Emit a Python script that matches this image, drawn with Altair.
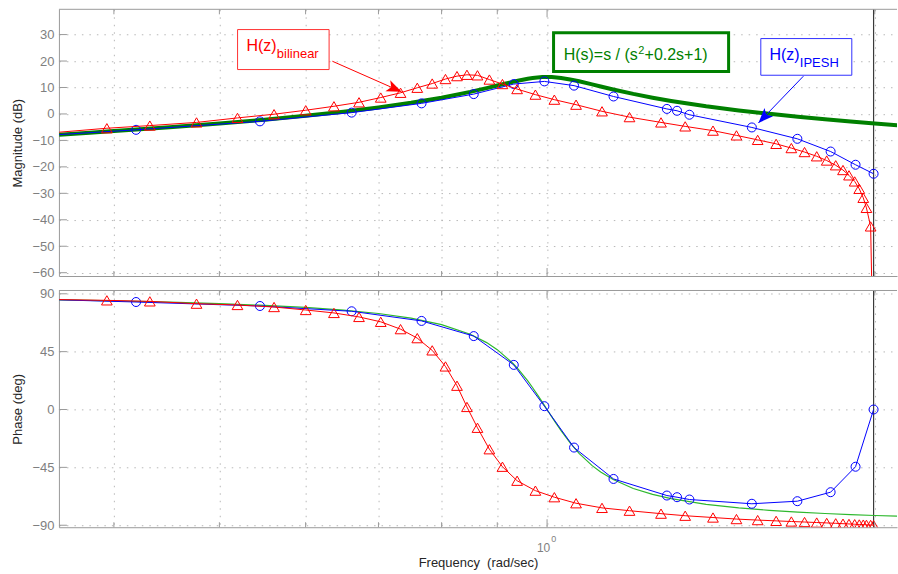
import altair as alt
import pandas as pd

# ---------------- data ----------------
# continuous-time H(s) = s/(s^2+0.2s+1)  (green)
green_w = [0.3563, 0.38, 0.40, 0.45, 0.50, 0.55, 0.60, 0.65, 0.70, 0.75,
           0.80, 0.85, 0.88, 0.90, 0.93, 0.94, 0.96, 0.97, 0.98, 0.99,
           1.00, 1.01, 1.02, 1.03, 1.05, 1.07, 1.10, 1.12, 1.15, 1.20,
           1.25, 1.30, 1.40, 1.50, 1.60, 1.70, 1.80, 1.90, 2.00, 2.10]
green_mag = [-7.82, -7.08, -6.48, -5.03, -3.60, -2.17, -0.71, 0.81, 2.44, 4.20,
             6.15, 8.34, 9.76, 10.73, 12.14, 12.57, 13.31, 13.59, 13.80, 13.94,
             13.98, 13.94, 13.81, 13.62, 13.05, 12.34, 11.17, 10.38, 9.26, 7.58,
             6.15, 4.93, 2.92, 1.34, 0.04, -1.06, -2.01, -2.85, -3.60, -4.28]
green_ph = [85.34, 84.92, 84.56, 83.56, 82.41, 81.04, 79.38, 77.31, 74.65, 71.07,
            66.04, 58.51, 52.04, 46.55, 36.00, 31.76, 22.20, 16.94, 11.40, 5.74,
            0.00, -5.68, -11.20, -16.47, -26.00, -34.10, -43.67, -48.64, -54.50, -61.40,
            -66.04, -69.35, -73.74, -76.50, -78.41, -79.80, -80.87, -81.72, -82.41, -82.98]

# H(z) bilinear (red triangles)
bil_w = [0.3941, 0.4316, 0.4764, 0.5195, 0.5613, 0.6002, 0.6371, 0.6718, 0.7034, 0.7335,
         0.7599, 0.7843, 0.8066, 0.8265, 0.8441, 0.8631, 0.8851, 0.9099, 0.9386, 0.9756,
         1.0155, 1.0632, 1.1232, 1.1905, 1.2725, 1.3393, 1.4204, 1.4927, 1.5612, 1.6234,
         1.6765, 1.7239, 1.7689, 1.8067, 1.8414, 1.8700, 1.8938, 1.9168, 1.9355, 1.9519,
         1.9651, 1.9826, 1.9950]
bil_mag = [-5.4, -4.4, -3.2, -1.5, -0.1, 1.4, 2.9, 4.4, 6.2, 8.0,
           9.9, 11.5, 13.2, 14.3, 14.8, 14.6, 13.0, 11.3, 9.4, 7.3,
           5.4, 3.5, 1.0, -1.2, -3.2, -4.7, -6.3, -8.1, -9.8, -11.3,
           -12.9, -14.4, -16.0, -17.6, -19.4, -21.2, -23.2, -25.5, -28.3, -31.7,
           -35.5, -42.5, -100.0]
bil_ph = [84.9, 84.1, 82.3, 81.3, 79.7, 77.4, 75.1, 72.0, 68.2, 62.5,
          55.5, 46.0, 33.5, 18.5, 2.0, -14.2, -30.9, -44.5, -55.4, -63.1,
          -68.2, -72.9, -76.5, -78.7, -81.0, -82.6, -84.0, -85.2, -86.0, -86.6,
          -87.1, -87.5, -87.9, -88.2, -88.5, -88.8, -89.0, -89.2, -89.4, -89.5,
          -89.7, -89.8, -90.0]
bil_start = [0.3563, -6.9, 85.5]

# H(z) IPESH (blue circles)
ipesh_w = [0.4192, 0.5448, 0.6614, 0.7668, 0.8563, 0.9320, 0.9943, 1.0587, 1.1509,
           1.2884, 1.3164, 1.3513, 1.5421, 1.6979, 1.8217, 1.9203, 1.9950]
ipesh_mag = [-6.0, -2.8, 0.5, 4.0, 7.5, 11.3, 12.3, 10.7, 6.6,
             1.9, 1.2, -0.3, -5.1, -9.4, -14.2, -19.2, -22.6]
ipesh_ph = [83.6, 80.5, 76.4, 68.9, 57.1, 34.7, 2.6, -29.6, -54.0,
            -66.9, -68.2, -70.0, -73.3, -71.3, -64.3, -44.5, 0.0]
ipesh_start = [0.3563, -7.8, 85.3]

nyquist_w = [1.995]

mag_ticks = [-60, -50, -40, -30, -20, -10, 0, 10, 20, 30]
ph_ticks = [-90, -45, 0, 45, 90]
x_grid = [0.4, 0.5, 0.6, 0.7, 0.8, 0.9, 1.0, 2.0]
x_minor = [0.4, 0.5, 0.6, 0.7, 0.8, 0.9, 2.0]
x_major = [1.0]
x_label_w = [1.0]

# annotations (frequency, dB)
red_box = {"x1": [0.5196], "x2": [0.6306], "y1": [31.89], "y2": [16.78]}
green_box = {"x1": [1.0138], "x2": [1.4681], "y1": [30.68], "y2": [16.07]}
blue_box = {"x1": [1.5716], "x2": [1.9052], "y1": [28.49], "y2": [14.63]}
red_txt = {"x": [0.5294], "y": [23.96]}
green_txt = {"x": [1.0357], "y": [20.30]}
blue_txt = {"x": [1.6004], "y": [20.56]}
red_arrow = {"x1": [0.6350], "y1": [19.92], "x2": [0.7350], "y2": [8.40]}
blue_arrow = {"x1": [1.7196], "y1": [14.26], "x2": [1.5637], "y2": [-3.38]}

# ---------------- style ----------------
W, H1, H2 = 839, 267, 237
FRAME = "#9a9a9a"
GRAYTXT = "#7f7f7f"
GRID = "#b8b8b8"
RED = "#ff0000"
BLUE = "#0000ff"
GREEN = "#008000"
GREEN_LT = "#2eb82e"
NYQ = "#3a3a3a"
ARROW = "M0,0L0.4,1L0,0.75L-0.4,1Z"

xscale = alt.Scale(type="log", domain=[0.3561, 2.0963], nice=False)
ymag = alt.Scale(domain=[-61.25, 39.55], nice=False, zero=False)
yph = alt.Scale(domain=[-91.55, 92.56], nice=False, zero=False)

common_x = dict(values=x_grid, grid=True, gridColor=GRID, gridDash=[1.5, 6], gridWidth=1,
                labels=False, ticks=False, tickSize=0, domain=True, domainColor=FRAME,
                minExtent=0, maxExtent=0)
ax_x_top = alt.Axis(title=None, **common_x)
ax_x_bot = alt.Axis(title="Frequency\u00a0 (rad/sec)", titleFontSize=13, titleColor="#262626",
                    titleFontWeight="normal", titleBaseline="alphabetic", titleY=39, **common_x)


def yaxis(title, vals):
    return alt.Axis(title=title, values=vals, grid=True, gridColor=GRID, gridDash=[1.5, 6],
                    gridWidth=1, ticks=False, tickSize=0, labelColor=GRAYTXT, labelFontSize=13,
                    labelPadding=5, domain=True, domainColor=FRAME, format="d",
                    titleFontSize=13, titleColor="#262626", titleFontWeight="normal",
                    titleAngle=270, titleBaseline="bottom", titlePadding=6,
                    minExtent=28, maxExtent=28)


ax_y_top = yaxis("Magnitude (dB)", mag_ticks)
ax_y_bot = yaxis("Phase (deg)", ph_ticks)


def XT(f):
    return alt.X(f"{f}:Q", scale=xscale, axis=ax_x_top)


def YT(f):
    return alt.Y(f"{f}:Q", scale=ymag, axis=ax_y_top)


def XB(f):
    return alt.X(f"{f}:Q", scale=xscale, axis=ax_x_bot)


def YB(f):
    return alt.Y(f"{f}:Q", scale=yph, axis=ax_y_bot)


green_df = pd.DataFrame({"w": green_w, "mag": green_mag, "ph": green_ph})
bil_pts = pd.DataFrame({"w": bil_w, "mag": bil_mag, "ph": bil_ph})
bil_line = pd.DataFrame({"w": [bil_start[0]] + bil_w, "mag": [bil_start[1]] + bil_mag,
                         "ph": [bil_start[2]] + bil_ph})
ip_pts = pd.DataFrame({"w": ipesh_w, "mag": ipesh_mag, "ph": ipesh_ph})
ip_line = pd.DataFrame({"w": [ipesh_start[0]] + ipesh_w, "mag": [ipesh_start[1]] + ipesh_mag,
                        "ph": [ipesh_start[2]] + ipesh_ph})
nyq_df = pd.DataFrame({"w": nyquist_w})
one = pd.DataFrame({"v": [0]})


def panel_common(X, Y, H, ticks, field, green_color, green_width):
    layers = [
        alt.Chart(nyq_df).mark_rule(color=NYQ, strokeWidth=1.2).encode(x=X("w")),
        alt.Chart(green_df).mark_line(color=green_color, strokeWidth=green_width, clip=True)
        .encode(x=X("w"), y=Y(field)),
        alt.Chart(ip_line).mark_line(color=BLUE, strokeWidth=1, clip=True).encode(x=X("w"), y=Y(field)),
        alt.Chart(ip_pts).mark_point(shape="circle", size=81, color=BLUE, strokeWidth=1,
                                     filled=False, opacity=1, clip=True).encode(x=X("w"), y=Y(field)),
        alt.Chart(bil_line).mark_line(color=RED, strokeWidth=1, clip=True).encode(x=X("w"), y=Y(field)),
        alt.Chart(bil_pts).mark_point(shape="triangle-up", size=115, color=RED, strokeWidth=1,
                                      filled=False, opacity=1, clip=True).encode(x=X("w"), y=Y(field)),
        # inward ticks
        alt.Chart(pd.DataFrame({"v": ticks})).mark_rule(color=FRAME)
        .encode(y=Y("v"), x=alt.value(0), x2=alt.value(8)),
        alt.Chart(pd.DataFrame({"w": x_minor})).mark_rule(color=FRAME)
        .encode(x=X("w"), y=alt.value(0), y2=alt.value(5)),
        alt.Chart(pd.DataFrame({"w": x_minor})).mark_rule(color=FRAME)
        .encode(x=X("w"), y=alt.value(H), y2=alt.value(H - 5)),
        alt.Chart(pd.DataFrame({"w": x_major})).mark_rule(color=FRAME)
        .encode(x=X("w"), y=alt.value(0), y2=alt.value(8)),
        alt.Chart(pd.DataFrame({"w": x_major})).mark_rule(color=FRAME)
        .encode(x=X("w"), y=alt.value(H), y2=alt.value(H - 8)),
        # top frame line
        alt.Chart(one).mark_rule(color=FRAME).encode(y=alt.value(0), x=alt.value(0), x2=alt.value(W)),
    ]
    return layers


top_layers = panel_common(XT, YT, H1, mag_ticks, "mag", GREEN, 4)


def arrow_layers(d, color, angle):
    df = pd.DataFrame(d)
    return [
        alt.Chart(df).mark_rule(color=color, strokeWidth=1)
        .encode(x=XT("x1"), y=YT("y1"), x2="x2:Q", y2="y2:Q"),
        alt.Chart(df).mark_point(shape=ARROW, size=900, filled=True, color=color, opacity=1,
                                 strokeWidth=0, angle=angle)
        .encode(x=XT("x2"), y=YT("y2")),
    ]


def box_layer(d, color, sw):
    return alt.Chart(pd.DataFrame(d)).mark_rect(fill="white", stroke=color, strokeWidth=sw) \
        .encode(x=XT("x1"), x2="x2:Q", y=YT("y1"), y2="y2:Q")


def txt(d, s, color, size, dx=0, dy=0):
    return alt.Chart(pd.DataFrame(d)).mark_text(text=s, color=color, fontSize=size, align="left",
                                                baseline="alphabetic", dx=dx, dy=dy) \
        .encode(x=XT("x"), y=YT("y"))


top_layers += arrow_layers(red_arrow, RED, 113.75)
top_layers += arrow_layers(blue_arrow, BLUE, 223.94)
top_layers += [
    box_layer(red_box, "#ff3030", 1),
    box_layer(blue_box, "#3030ff", 1),
    box_layer(green_box, GREEN, 3),
    txt(red_txt, "H(z)", RED, 16),
    txt(red_txt, "bilinear", RED, 13, dx=30.5, dy=7.7),
    txt(blue_txt, "H(z)", BLUE, 16),
    txt(blue_txt, "IPESH", BLUE, 13, dx=30.5, dy=7.7),
    txt(green_txt, "H(s)=s / (s", GREEN, 16),
    txt(green_txt, "2", GREEN, 11, dx=74.6, dy=-6.5),
    txt(green_txt, "+0.2s+1)", GREEN, 16, dx=81),
]

bot_layers = panel_common(XB, YB, H2, ph_ticks, "ph", GREEN_LT, 1.2)
lbl = alt.Chart(pd.DataFrame({"w": x_label_w}))
bot_layers += [
    lbl.mark_text(text="10", fontSize=12, color=GRAYTXT, align="center", baseline="alphabetic", dx=-3.5)
    .encode(x=XB("w"), y=alt.value(H2 + 24.7)),
    lbl.mark_text(text="0", fontSize=9, color=GRAYTXT, align="center", baseline="alphabetic", dx=6.6)
    .encode(x=XB("w"), y=alt.value(H2 + 15)),
]

top = alt.layer(*top_layers).properties(width=W, height=H1)
bottom = alt.layer(*bot_layers).properties(width=W, height=H2)

chart = alt.vconcat(top, bottom, spacing=7.5).properties(
    padding={"left": 11, "top": 8, "right": 0, "bottom": 0},
    background="white",
).configure(font="Liberation Sans").configure_view(strokeOpacity=0)

chart.save("out.html", embed_options={"renderer": "svg", "actions": False})
